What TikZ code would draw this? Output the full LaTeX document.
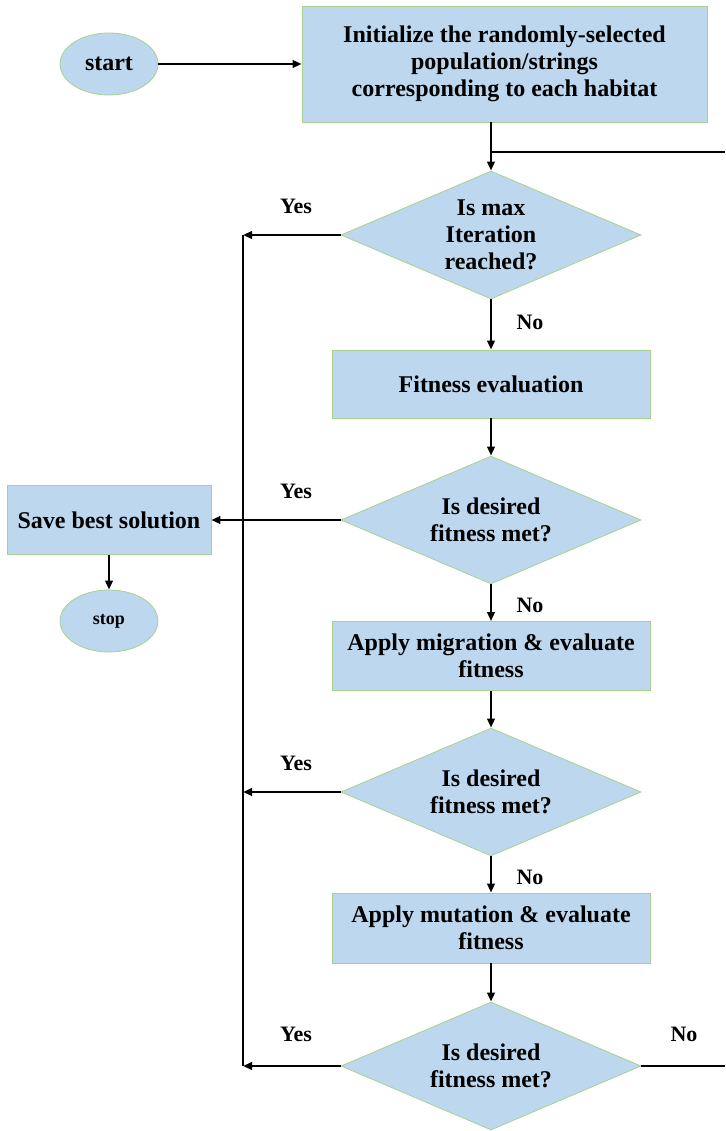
\documentclass[tikz,border=0pt]{standalone}
\usepackage{fontspec}
\setmainfont{Liberation Serif}
\usetikzlibrary{shapes.geometric,arrows.meta}
\definecolor{boxblue}{RGB}{189,215,238}
\definecolor{boxedge}{RGB}{169,209,142}

\begin{document}
\begin{tikzpicture}[x=1pt,y=-1pt,
  blkfont/.style={font=\bfseries\fontsize{24}{27}\selectfont},
  blk/.style={draw=boxedge,line width=0.8pt,fill=boxblue,inner sep=0pt,align=center,blkfont},
  procbox/.style={blk,rectangle},
  decide/.style={blk,diamond,minimum width=300pt,minimum height=128pt},
  term/.style={blk,ellipse,minimum width=98pt,minimum height=62pt},
  flow/.style={line width=2.8pt,-{Triangle[length=9pt,width=7.5pt]}},
  lbl/.style={font=\bfseries\fontsize{22}{26}\selectfont}]
  \useasboundingbox (0,0) rectangle (725,1131);
  % blocks
  \node[term] (start) at (109,64) {start};
  \node[procbox,minimum width=405pt,minimum height=116pt] (init) at (504.5,64)
    {Initialize the randomly-selected\\population/strings\\corresponding to each habitat};
  \node[decide,label={[blkfont,align=center]center:Is max\\Iteration\\reached?}] (maxit) at (491,235) {};
  \node[procbox,minimum width=318pt,minimum height=68pt] (fit) at (491,384) {Fitness evaluation};
  \node[decide,label={[blkfont,align=center]center:Is desired\\fitness met?}] (met1) at (491,520) {};
  \node[procbox,minimum width=204pt,minimum height=69pt] (save) at (109,520) {Save best solution};
  \node[term,font=\bfseries\fontsize{18}{22}\selectfont] (stop) at (109,621) {stop};
  \node[procbox,minimum width=318pt,minimum height=69pt] (mig) at (491,656) {Apply migration \& evaluate\\fitness};
  \node[decide,label={[blkfont,align=center]center:Is desired\\fitness met?}] (met2) at (491,792) {};
  \node[procbox,minimum width=318pt,minimum height=70pt] (mut) at (491,928) {Apply mutation \& evaluate\\fitness};
  \node[decide,label={[blkfont,align=center]center:Is desired\\fitness met?}] (met3) at (491,1066) {};
  % free ends
  \coordinate (back) at (491,152); \coordinate (backR) at (725,152);
  \coordinate (y1) at (243,235); \coordinate (y3) at (243,792);
  \coordinate (y4) at (243,1066); \coordinate (noR) at (725,1066);
  % connectors
  \draw[flow] (start) -- (init);
  \draw[flow] (init.south -| maxit.north) -- (maxit.north);
  \draw[line width=2.8pt] (back) -- (backR);
  \draw[flow] (maxit.west) -- (y1);
  \draw[flow] (maxit) -- (fit);
  \draw[flow] (fit) -- (met1);
  \draw[flow] (met1.west) -- (save.east);
  \draw[flow] (save) -- (stop);
  \draw[flow] (met1) -- (mig);
  \draw[flow] (mig) -- (met2);
  \draw[flow] (met2.west) -- (y3);
  \draw[flow] (met2) -- (mut);
  \draw[flow] (mut) -- (met3);
  \draw[flow] (met3.west) -- (y4);
  \draw[line width=2.8pt] (met3.east) -- (noR);
  \draw[line width=2.8pt] (y1) -- (y4);
  % labels
  \node[lbl] (yes1) at (296,206) {Yes}; \node[lbl] (no1) at (530,322) {No};
  \node[lbl] (yes2) at (296,491) {Yes}; \node[lbl] (no2) at (530,605) {No};
  \node[lbl] (yes3) at (296,763) {Yes}; \node[lbl] (no3) at (530,877) {No};
  \node[lbl] (yes4) at (296,1034) {Yes}; \node[lbl] (no4) at (684,1034) {No};
\end{tikzpicture}
\end{document}
